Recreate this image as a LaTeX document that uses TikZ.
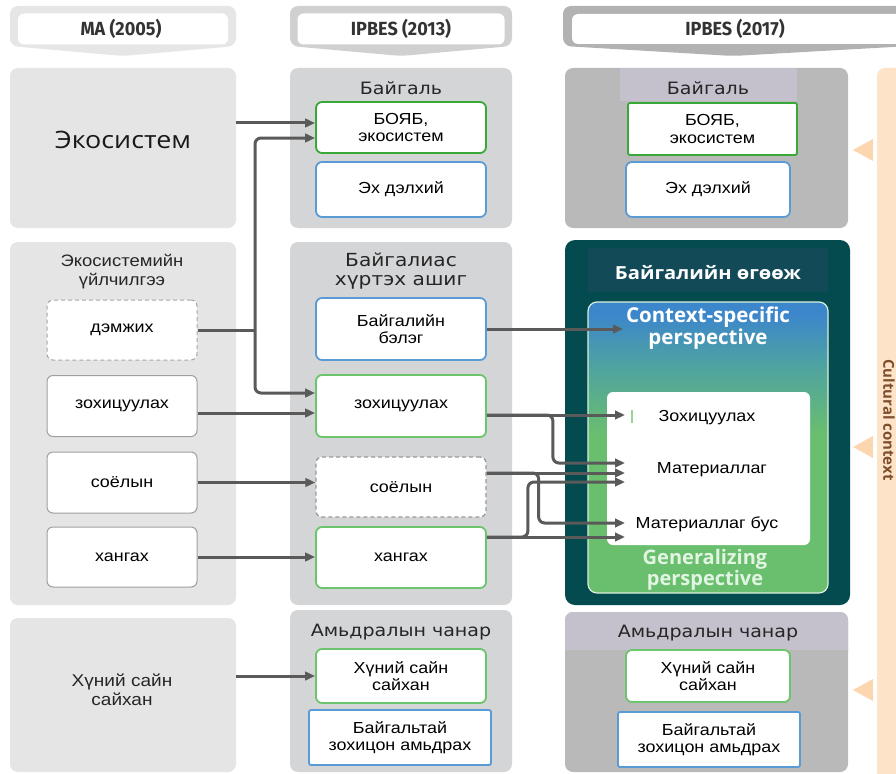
\documentclass[tikz,border=0pt]{standalone}
\usepackage{fontspec}
\setmainfont{Liberation Sans}[FakeStretch=1.12]
\newfontfamily\titlef{DejaVu Sans}[FakeStretch=1.12]
\newfontfamily\osans{Open Sans}
\newfontfamily\osansw{Open Sans}[FakeStretch=1.12]
\newfontfamily\hdrf{Fira Sans}[FakeStretch=0.95]
\usetikzlibrary{arrows.meta,calc}
\definecolor{pA}{HTML}{E5E5E5}
\definecolor{pB}{HTML}{D4D5D6}
\definecolor{pC}{HTML}{B9B9B9}
\definecolor{bandC}{HTML}{C5C1CC}
\definecolor{teal}{HTML}{044B50}
\definecolor{tealband}{HTML}{124A58}
\definecolor{grnD}{HTML}{38A838}
\definecolor{grn}{HTML}{6CC46C}
\definecolor{blu}{HTML}{5B9BD5}
\definecolor{hdrA}{HTML}{E6E6E6}
\definecolor{hdrB}{HTML}{D0D0D0}
\definecolor{hdrC}{HTML}{B2B2B2}
\definecolor{cline}{HTML}{5A5A5A}
\definecolor{peach}{HTML}{FDE3C8}
\definecolor{peachT}{HTML}{FCD6AE}
\definecolor{brown}{HTML}{7E4E2C}
\definecolor{ctxb}{HTML}{3C86CC}
\definecolor{ctxm}{HTML}{4FA3A0}
\definecolor{ctxg}{HTML}{6ABF6E}
\definecolor{genT}{HTML}{E2F4E2}
\pgfdeclareverticalshading{ctxsh}{100bp}{color(0bp)=(ctxg); color(52bp)=(ctxg); color(64bp)=(ctxm); color(73bp)=(ctxb); color(100bp)=(ctxb)}
\tikzset{
  panel/.style={rectangle, rounded corners=8pt, inner sep=0pt},
  bx/.style={rectangle, rounded corners=6pt, fill=white, align=center, inner sep=1pt,
    font=\fontsize{16}{17.5}\selectfont},
  gboxD/.style={bx, draw=grnD, line width=1.8pt},
  gbox/.style={bx, draw=grn, line width=1.8pt},
  bbox/.style={bx, draw=blu, line width=1.8pt},
  dbox/.style={bx, draw=gray!80, line width=1.3pt, dash pattern=on 4pt off 3pt},
  wbox/.style={bx, draw=gray!75, line width=1pt},
  ttl/.style={align=center, font=\titlef\fontsize{17}{19}\selectfont, text=black!85},
  hdrtxt/.style={font=\hdrf\bfseries\fontsize{19}{20}\selectfont, text=black!80},
  conn/.style={line width=3pt, draw=cline, rounded corners=6pt},
  arr/.style={conn, -{Triangle[length=10pt,width=8.5pt]}},
  tri/.style={fill=peachT}
}
\begin{document}
\begin{tikzpicture}[x=1pt,y=-1pt]
\useasboundingbox (0,0) rectangle (896,773);
\fill[white] (0,0) rectangle (896,773);

% ---------- headers ----------
\fill[hdrA, rounded corners=8pt] (10,46) -- (10,6) -- (236,6) -- (236,46) -- (123,56) -- cycle;
\fill[hdrB, rounded corners=8pt] (290,46) -- (290,6) -- (512,6) -- (512,46) -- (401,56) -- cycle;
\fill[hdrC, rounded corners=8pt] (563,46) -- (563,6) -- (910,6) -- (910,46) -- (733,56) -- cycle;
\node[panel, fill=white, minimum width=210pt, minimum height=31pt, rounded corners=6pt] (h1) at (123,29) {};
\node[hdrtxt] (h1t) at (121,29) {MA (2005)};
\node[panel, fill=white, minimum width=207pt, minimum height=31pt, rounded corners=6pt] (h2) at (401,29) {};
\node[hdrtxt] (h2t) at (401,29) {IPBES (2013)};
\fill[white, rounded corners=6pt] (572,14) rectangle (910,44);
\node[hdrtxt] (h3t) at (735,29) {IPBES (2017)};

% ---------- cultural context strip ----------
\fill[peach, rounded corners=8pt] (877,68) rectangle (910,790);
\node[rotate=-90, font=\osans\bfseries\fontsize{15}{16}\selectfont, text=brown] (cult) at (889,420) {Cultural context};
\fill[tri] (873,139) -- (853,150) -- (873,161) -- cycle;
\fill[tri] (873,436) -- (853,447) -- (873,458) -- cycle;
\fill[tri] (873,679) -- (853,690) -- (873,701) -- cycle;

% ---------- column 1 ----------
\node[panel, fill=pA, minimum width=226pt, minimum height=160pt] (ecoP) at (123,148) {};
\node[font=\osansw\fontsize{24}{26}\selectfont, text=black!90] (ecoT) at (123,140) {Экосистем};
\node[panel, fill=pA, minimum width=226pt, minimum height=363pt] (esP) at (123,423.5) {};
\node[align=center, font=\fontsize{16.5}{19}\selectfont, text=black!85] (esT) at (122,272) {Экосистемийн\\үйлчилгээ};
\node[wbox, draw=gray!70, dash pattern=on 4pt off 3pt, minimum width=150pt, minimum height=60pt] (dem) at (122,330) {дэмжих};
\node[wbox, minimum width=150pt, minimum height=61pt] (zoh1) at (122,406) {зохицуулах};
\node[wbox, minimum width=150pt, minimum height=61pt] (soy1) at (122,482.5) {соёлын};
\node[wbox, minimum width=150pt, minimum height=60pt] (han1) at (122,557) {хангах};
\node[panel, fill=pA, minimum width=226pt, minimum height=154pt] (hwbP) at (123,695) {};
\node[align=center, font=\fontsize{17}{18.5}\selectfont, text=black!85] (hwbT) at (122,690) {Хүний сайн\\сайхан};

% ---------- column 2 ----------
\node[panel, fill=pB, minimum width=222pt, minimum height=160pt] (natP2) at (401,148) {};
\node[ttl] (natT2) at (401,88) {Байгаль};
\node[gboxD, minimum width=170pt, minimum height=51pt] (boyab2) at (401,127.5) {БОЯБ,\\экосистем};
\node[bbox, minimum width=170pt, minimum height=55pt] (eh2) at (401,189.5) {Эх дэлхий};
\node[panel, fill=pB, minimum width=222pt, minimum height=363pt] (benP2) at (401,423.5) {};
\node[ttl, font=\titlef\fontsize{18}{19}\selectfont] (benT2) at (401,271) {Байгалиас\\хүртэх ашиг};
\node[bbox, minimum width=170pt, minimum height=62pt] (gift2) at (401,329) {Байгалийн\\бэлэг};
\node[gbox, minimum width=170pt, minimum height=62pt] (zoh2) at (401,406) {зохицуулах};
\node[dbox, minimum width=170pt, minimum height=60pt] (soy2) at (401,487) {соёлын};
\node[gbox, minimum width=170pt, minimum height=61pt] (han2) at (401,557.5) {хангах};
\node[panel, fill=pB, minimum width=222pt, minimum height=162pt] (qolP2) at (401,691) {};
\node[ttl] (qolT2) at (401,632) {Амьдралын чанар};
\node[gbox, minimum width=170pt, minimum height=54pt] (hwb2) at (401,676) {Хүний сайн\\сайхан};
\node[bbox, rounded corners=2pt, minimum width=182pt, minimum height=55pt] (har2) at (400,737.5) {Байгальтай\\зохицон амьдрах};

% ---------- column 3 ----------
\node[panel, fill=pC, minimum width=283pt, minimum height=160pt] (natP3) at (706.5,148) {};
\fill[bandC] (620,68) rectangle (797,101);
\node[ttl] (natT3) at (708,88) {Байгаль};
\node[gboxD, rounded corners=2pt, minimum width=169pt, minimum height=52pt] (boyab3) at (712.5,129) {БОЯБ,\\экосистем};
\node[bbox, minimum width=164pt, minimum height=55pt] (eh3) at (708,189.5) {Эх дэлхий};

\node[panel, fill=teal, rounded corners=10pt, minimum width=285pt, minimum height=365pt] (nbP3) at (707.5,422.5) {};
\fill[tealband] (588,248) rectangle (828,292);
\node[font=\osansw\bfseries\fontsize{18}{19}\selectfont, text=white] (nbT3) at (708,273) {Байгалийн өгөөж};
\node[panel, shade, shading=ctxsh, draw=white!75!ctxg, line width=1.2pt, rounded corners=9pt, minimum width=240pt, minimum height=291pt] (ctx) at (708,447.5) {};
\node[align=center, font=\osans\bfseries\fontsize{20.5}{19}\selectfont, text=white] (ctxT) at (708,328) {Context-specific\\perspective};
\node[panel, fill=white, rounded corners=6pt, minimum width=203pt, minimum height=153pt] (wb) at (708.5,468.5) {};
\fill[grn!70] (631,410) rectangle (633,423);
\node[bx, fill=none] (zoh3) at (707,418) {Зохицуулах};
\node[bx, fill=none] (mat3) at (712,470) {Материаллаг};
\node[bx, fill=none] (matb3) at (707,524) {Материаллаг бус};
\node[align=center, font=\osans\bfseries\fontsize{20}{19}\selectfont, text=genT] (genT3) at (705,570) {Generalizing\\perspective};

\node[panel, fill=pC, minimum width=283pt, minimum height=160pt] (qolP3) at (706.5,692) {};
\fill[bandC, rounded corners=8pt] (565,612) rectangle (848,660);
\fill[bandC] (565,630) rectangle (848,650);
\fill[pC] (565,650) rectangle (848,660);
\node[ttl] (qolT3) at (708,633) {Амьдралын чанар};
\node[gbox, minimum width=164pt, minimum height=52pt] (hwb3) at (708,676) {Хүний сайн\\сайхан};
\node[bbox, rounded corners=2pt, minimum width=182pt, minimum height=55pt] (har3) at (709,739.5) {Байгальтай\\зохицон амьдрах};

% ---------- connector targets ----------
\coordinate (j1) at (255,330);
\coordinate (tctx) at (623,329);
\coordinate (tz) at (625,415);
\coordinate (tm1) at (625,463);
\coordinate (tm2) at (625,473);
\coordinate (tm3) at (625,482);
\coordinate (tb1) at (625,523);
\coordinate (tb2) at (625,537);

% ---------- connectors col1 -> col2 ----------
\draw[arr] ([yshift=25pt]ecoP.east) -- ([yshift=4.5pt]boyab2.west);
\draw[conn] (dem.east) -- (j1);
\draw[arr] (j1) |- ([yshift=-10.5pt]boyab2.west);
\draw[arr] (j1) |- ([yshift=13pt]zoh2.west);
\draw[arr] ([yshift=-7pt]zoh1.east) -- ([yshift=-7pt]zoh2.west);
\draw[arr] (soy1.east) -- (soy1.east -| soy2.west);
\draw[arr] (han1.east) -- (han1.east -| han2.west);
\draw[arr] (hwbP.east |- hwb2.west) -- (hwb2.west);

% ---------- connectors col2 -> col3 ----------
\draw[arr] (gift2.east) -- (tctx);
\draw[arr] ([yshift=-9pt]zoh2.east) -- ++(66,0) |- (tm1);
\draw[arr] ([yshift=-9pt]zoh2.east) -- (tz);
\draw[arr] ([yshift=14pt]soy2.east) -- ++(52,0) |- (tb1);
\draw[arr] ([yshift=20.5pt]han2.east) -- ++(41,0) |- (tm3);
\draw[arr] ([yshift=14pt]soy2.east) -- (tm2);
\draw[arr] ([yshift=20.5pt]han2.east) -- (tb2);
\end{tikzpicture}
\end{document}
